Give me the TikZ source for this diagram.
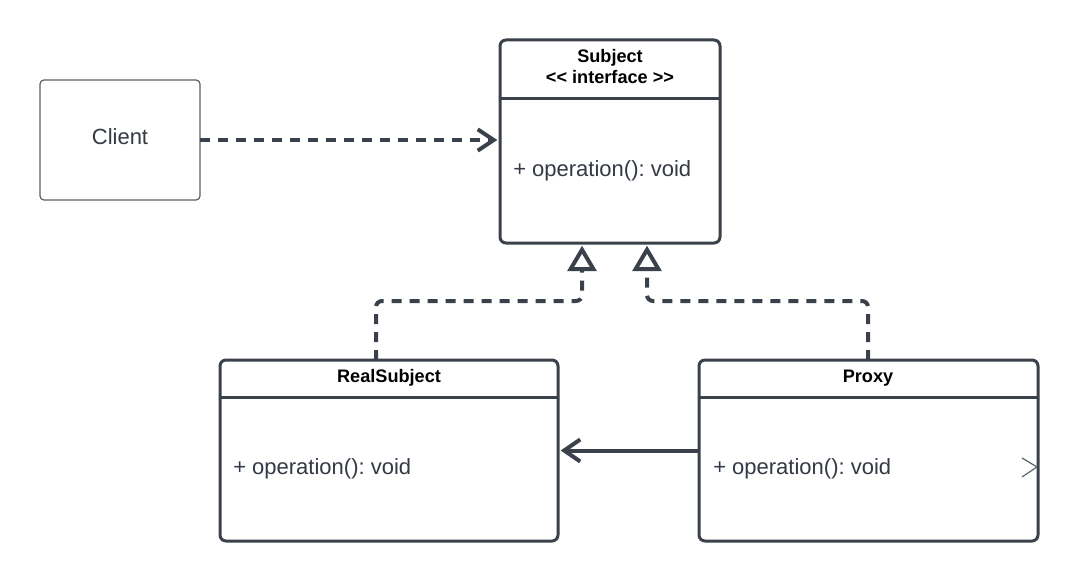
\documentclass[tikz,border=0pt]{standalone}
\usepackage{fontspec}
\setmainfont{Liberation Sans}
\usetikzlibrary{arrows.meta,calc}
\definecolor{ln}{HTML}{3A414A}
\definecolor{txt}{HTML}{333A44}
\definecolor{cl}{HTML}{5C6168}
\frenchspacing
\begin{document}
\begin{tikzpicture}[x=0.75pt,y=-0.75pt,
  classbox/.style={draw=ln, line width=2.25pt, rounded corners=4.5pt, inner sep=0pt, outer sep=0pt, rectangle},
  clientbox/.style={draw=cl, line width=0.9pt, rounded corners=3pt, inner sep=0pt, outer sep=0pt, rectangle},
  divider/.style={draw=ln, line width=2.25pt},
  hdr/.style={font=\bfseries\fontsize{13.6pt}{15.75pt}\selectfont, text=black, inner sep=0pt, anchor=base},
  optext/.style={font=\frenchspacing\fontsize{16.5pt}{19pt}\selectfont, text=txt, inner sep=0pt, anchor=base west},
  dep/.style={draw=ln, line width=3pt, dash pattern=on 7.5pt off 6pt, -{Straight Barb[length=12pt,width=16pt]}, shorten >=2pt},
  realize/.style={draw=ln, line width=3pt, dash pattern=on 7.5pt off 6pt, rounded corners=4.5pt, -{Triangle[open,length=19pt,width=21.5pt]}, shorten >=2pt},
  assoc/.style={draw=ln, line width=3pt, -{Straight Barb[length=12pt,width=16.5pt]}, shorten >=2pt},
  stray/.style={draw=cl, line width=0.9pt}
]
\useasboundingbox[fill=white] (0,0) rectangle (1080,581);

% boxes
\node[clientbox, minimum width=120pt, minimum height=90pt] (Client) at (120,140) {};
\node[font=\fontsize{16.5pt}{19pt}\selectfont, text=txt, inner sep=0pt, anchor=base] (ClientLbl) at (120,144) {Client};

\node[classbox, minimum width=165pt, minimum height=152.25pt] (Subject) at (610,141.5) {};
\draw[divider] ([yshift=-44.25pt]Subject.north west) -- ([yshift=-44.25pt]Subject.north east);
\node[hdr] (SubjectName) at (610,63) {Subject};
\node[hdr] (SubjectStereo) at (610,84) {<\kern0pt< interface >\kern0pt>};
\node[optext] (SubjectOp) at (513,176) {+ operation(): void};

\node[classbox, minimum width=253.5pt, minimum height=135.75pt] (RealSubject) at (389,450.5) {};
\draw[divider] ([yshift=-27.75pt]RealSubject.north west) -- ([yshift=-27.75pt]RealSubject.north east);
\node[hdr] (RealSubjectName) at (389,382) {RealSubject};
\node[optext] (RealSubjectOp) at (233,474) {+ operation(): void};

\node[classbox, minimum width=254.25pt, minimum height=135.75pt] (Proxy) at (868.5,450.5) {};
\draw[divider] ([yshift=-27.75pt]Proxy.north west) -- ([yshift=-27.75pt]Proxy.north east);
\node[hdr] (ProxyName) at (868,382) {Proxy};
\node[optext] (ProxyOp) at (713,474) {+ operation(): void};

% connectors
\draw[dep] (Client.east) -- (Client.east -| Subject.west);
\draw[realize] ([xshift=-9.75pt]RealSubject.north) -- ++(0,-59) -| ([xshift=-21pt]Subject.south);
\draw[realize] ([xshift=-0.375pt]Proxy.north) -- ++(0,-59) -| ([xshift=27.75pt]Subject.south);
\draw[assoc] (Proxy.west) -- (RealSubject.east);

% stray chevron on Proxy's right edge
\draw[stray] (1022,458) -- (1037,467) -- (1022,477);
\end{tikzpicture}
\end{document}
